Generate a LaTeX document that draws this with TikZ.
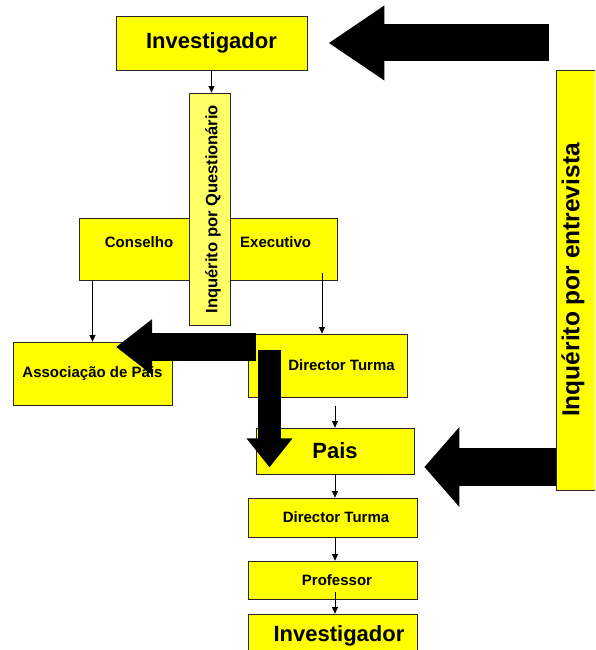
\documentclass[tikz,border=0pt]{standalone}
\usepackage{fontspec}
\setmainfont{Liberation Sans}
\usetikzlibrary{arrows.meta}
\definecolor{boxyellow}{RGB}{255,255,0}
\definecolor{paleyellow}{RGB}{255,255,102}
\tikzset{
  box/.style={draw=black!85, line width=0.8pt, fill=boxyellow, inner sep=0pt,
    font=\bfseries\fontsize{15}{18}\selectfont},
  bigfont/.style={font=\bfseries\fontsize{22}{26}\selectfont},
  thin/.style={->, >={Triangle[length=6.5pt,width=6pt]}, line width=0.7pt},
  bigarrow/.style n args={3}{line width=#1, -{Triangle[width=#2,length=#3]}}
}

\begin{document}
\begin{tikzpicture}[x=1pt,y=-1pt]
        \clip (0,0) rectangle (595,650);

        \node[box, bigfont, minimum width=191, minimum height=54] (inv1) at (211.5,43) {Investigador};
        \node[box, minimum width=258, minimum height=62, text depth=14pt] (conex) at (208,249)
          {Conselho\hspace{67pt}Executivo};
        \node[box, fill=paleyellow, minimum width=41, minimum height=232,
          font=\bfseries\fontsize{16.5}{19}\selectfont] (quest) at (209.5,209)
          {\hspace*{7pt}\rotatebox{90}{Inquérito por Questionário}};
        \node[box, minimum width=159, minimum height=63] (assoc) at (92.5,373.5) {Associação de Pais};
        \node[box, minimum width=159, minimum height=63] (dt1) at (327.5,365.5) {\hspace*{28pt}Director Turma};
        \node[box, bigfont, minimum width=158, minimum height=46] (pais) at (335,451) {Pais};
        \node[box, minimum width=169, minimum height=39] (dt2) at (332.5,517.5) {\hspace*{7pt}Director Turma};
        \node[box, minimum width=169, minimum height=38] (prof) at (332.5,580) {\hspace*{9pt}Professor};
        \node[box, bigfont, minimum width=169, minimum height=44] (inv2) at (332.5,636) {\hspace*{13pt}Investigador};
        \node[box, minimum width=44, minimum height=420,
          font=\bfseries\fontsize{24.5}{28}\selectfont] (entrev) at (578,280)
          {\rotatebox{90}{Inquérito por entrevista}\hspace*{10pt}};

        \draw[thin] (inv1.south) -- (inv1.south |- quest.north);
        \draw[thin] (assoc.north |- conex.south) -- (assoc.north);
        \draw[thin] ([xshift=-5.5pt,yshift=61pt]dt1.north) -- ([xshift=-5.5pt]dt1.north);
        \draw[thin] ([yshift=22pt]pais.north) -- (pais.north);
        \draw[thin] (pais.south) -- (pais.south |- dt2.north);
        \draw[thin] (pais.south |- dt2.south) -- (pais.south |- prof.north);
        \draw[thin, shorten <=-7pt] (pais.south |- prof.south) -- (pais.south |- inv2.north);

        \coordinate (t1) at (549,43);
        \coordinate (e1) at (556,467);
        \coordinate (a1) at (256,347);
        \coordinate (d1) at (269.5,350);
        \draw[bigarrow={37pt}{71pt}{56pt}, shorten >=21pt] (t1) -- (t1 -| inv1.east);
        \draw[bigarrow={38pt}{78pt}{35pt}, shorten >=10pt] (e1) -- (e1 -| pais.east);
        \draw[bigarrow={28pt}{53pt}{36pt}, shorten >=23.5pt] (a1) -- (a1 -| assoc.center);
        \draw[bigarrow={23pt}{44pt}{29pt}, shorten >=7pt] (d1) -- (d1 |- pais.south);
      \end{tikzpicture}
\end{document}
